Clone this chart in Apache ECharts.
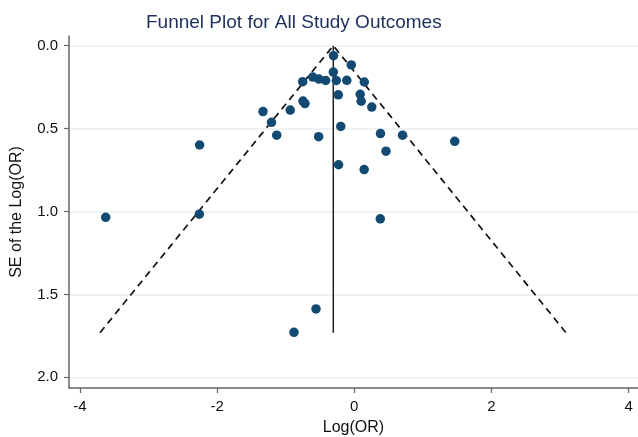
<!DOCTYPE html>
<html>
<head>
<meta charset="utf-8">
<script src="https://cdn.jsdelivr.net/npm/echarts@6/dist/echarts.min.js"></script>
<style>
html,body{margin:0;padding:0;background:#fff;}
#chart{width:638px;height:437px;}
</style>
</head>
<body>
<div id="chart"></div>
<script>
// Study estimates
const logOR = [-0.303,-0.044,-0.306,-0.752,-0.605,-0.515,-0.417,-0.262,-0.109,0.146,
  -0.233,0.086,0.101,0.255,-0.748,-0.719,-0.934,-1.331,-1.207,-1.131,
  -0.197,-0.520,0.382,0.703,1.464,0.462,-0.229,0.144,-2.255,-2.259,
  -3.624,0.379,-0.558,-0.879];
const seLogOR = [0.060,0.116,0.159,0.217,0.189,0.201,0.210,0.210,0.209,0.219,
  0.296,0.293,0.335,0.370,0.334,0.349,0.388,0.397,0.462,0.540,
  0.487,0.549,0.530,0.540,0.577,0.636,0.718,0.747,0.599,1.016,
  1.035,1.044,1.588,1.729];
// Pooled estimate line and pseudo 95% confidence limits (funnel)
const pooledX = [-0.306, -0.306];
const pooledY = [0, 1.731];
const funnelX = [-3.707, -0.306, 3.086];
const funnelY = [1.731, 0, 1.731];
const xTicks = [-4, -2, 0, 2, 4];
const yTicks = [0, 0.5, 1, 1.5, 2];

const pts = logOR.map((v, i) => [v, seLogOR[i]]);
const pooled = pooledX.map((v, i) => [v, pooledY[i]]);
const funnel = funnelX.map((v, i) => [v, funnelY[i]]);

const chart = echarts.init(document.getElementById('chart'), null, {renderer: 'canvas'});
const font = 'Liberation Sans, Arial, Helvetica, sans-serif';
chart.setOption({
  backgroundColor: '#ffffff',
  animation: false,
  title: {
    text: 'Funnel Plot for All Study Outcomes',
    left: 141, top: 8,
    textStyle: {fontFamily: font, fontSize: 19, fontWeight: 'normal', color: '#1c2f5e'}
  },
  grid: {left: 69, right: 0, top: 36, bottom: 49, containLabel: false, outerBoundsMode: 'none'},
  xAxis: {
    type: 'value', min: -4.159, max: 4.136,
    name: 'Log(OR)', nameLocation: 'middle', nameGap: 32,
    nameTextStyle: {fontFamily: font, fontSize: 16, color: '#111'},
    axisLine: {show: true, onZero: false, lineStyle: {color: '#666', width: 1.5}},
    axisTick: {show: true, length: 5, customValues: xTicks, lineStyle: {color: '#666', width: 1.2}},
    axisLabel: {customValues: xTicks, fontFamily: font, fontSize: 15, color: '#111', margin: 11,
      formatter: v => String(v)},
    splitLine: {show: false}
  },
  yAxis: {
    type: 'value', inverse: true, min: -0.0585, max: 2.0646,
    name: 'SE of the Log(OR)', nameLocation: 'middle', nameGap: 44,
    nameTextStyle: {fontFamily: font, fontSize: 16, color: '#111'},
    axisLine: {show: true, onZero: false, lineStyle: {color: '#666', width: 1.5}},
    axisTick: {show: true, length: 5, customValues: yTicks, lineStyle: {color: '#666', width: 1.2}},
    axisLabel: {customValues: yTicks, fontFamily: font, fontSize: 15, color: '#111', margin: 11,
      formatter: v => v.toFixed(1)},
    splitLine: {show: true, lineStyle: {color: '#e6eff2', width: 1.5}}
  },
  series: [
    {
      type: 'line', data: funnel, symbol: 'none', z: 2,
      lineStyle: {color: '#111', width: 1.7, type: [7, 5]}
    },
    {
      type: 'line', data: pooled, symbol: 'none', z: 2,
      lineStyle: {color: '#222', width: 1.5}
    },
    {
      type: 'scatter', data: pts, symbol: 'circle', symbolSize: 9.5, z: 3,
      itemStyle: {color: '#124a72', opacity: 1}
    }
  ]
});
</script>
</body>
</html>
